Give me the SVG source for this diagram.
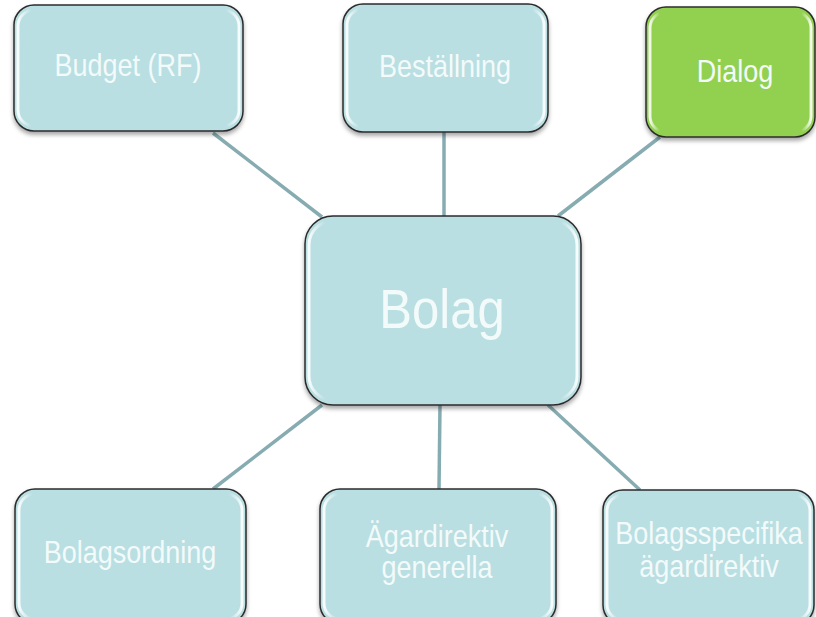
<svg xmlns="http://www.w3.org/2000/svg" width="816" height="617" viewBox="0 0 816 617">
<defs>
<linearGradient id="gloss" x1="0" y1="0" x2="1" y2="0">
<stop offset="0" stop-color="#ffffff" stop-opacity="0.9"/>
<stop offset="0.06" stop-color="#ffffff" stop-opacity="0"/>
<stop offset="0.94" stop-color="#ffffff" stop-opacity="0"/>
<stop offset="1" stop-color="#ffffff" stop-opacity="0.9"/>
</linearGradient>
<filter id="sh" x="-10%" y="-10%" width="120%" height="130%">
<feDropShadow dx="0" dy="3" stdDeviation="2" flood-color="#000" flood-opacity="0.35"/>
</filter>
</defs>
<style>
.box{fill:#B9DFE2;stroke:#2b2b2b;stroke-width:1.5;filter:url(#sh)}
.green{fill:#92D050}
.gl{fill:none;stroke:url(#gloss);stroke-width:3}
.t{font-family:"Liberation Sans",Arial,sans-serif;font-size:27px;fill:#F3FAFA;text-anchor:middle}
.big{font-size:49px}
.con line{stroke:#86ACB1;stroke-width:3.5}
</style>
<rect width="816" height="617" fill="#ffffff"/>
<g id="connectors" class="con">
<line x1="213" y1="133" x2="322" y2="217"/>
<line x1="444" y1="132" x2="444" y2="216"/>
<line x1="660" y1="137" x2="558" y2="216"/>
<line x1="322" y1="405" x2="213" y2="489"/>
<line x1="440" y1="405" x2="439" y2="489"/>
<line x1="548" y1="405" x2="640" y2="490"/>
</g>
<g id="budget">
<rect class="box" x="14" y="5" width="229" height="126" rx="20"/>
<rect class="gl" x="18" y="10" width="221" height="116" rx="16"/>
<text class="t" transform="translate(128,76) scale(1,1.13)">Budget (RF)</text>
</g>
<g id="bestallning">
<rect class="box" x="343" y="4" width="205" height="128" rx="20"/>
<rect class="gl" x="347" y="9" width="197" height="118" rx="16"/>
<text class="t" transform="translate(445,77) scale(1,1.13)">Beställning</text>
</g>
<g id="dialog">
<rect class="box green" x="646" y="7" width="169" height="130" rx="20"/>
<rect class="gl" x="650" y="12" width="161" height="120" rx="16"/>
<text class="t" transform="translate(735,82) scale(1,1.13)">Dialog</text>
</g>
<g id="bolag">
<rect class="box" x="305" y="216" width="276" height="189" rx="28"/>
<rect class="gl" x="309" y="221" width="268" height="179" rx="24"/>
<text class="t big" transform="translate(442,328) scale(1,1.13)">Bolag</text>
</g>
<g id="bolagsordning">
<rect class="box" x="15" y="489" width="231" height="135" rx="20"/>
<rect class="gl" x="19" y="494" width="223" height="125" rx="16"/>
<text class="t" transform="translate(130,563) scale(1,1.13)">Bolagsordning</text>
</g>
<g id="agardirektiv-generella">
<rect class="box" x="320" y="489" width="236" height="135" rx="20"/>
<rect class="gl" x="324" y="494" width="228" height="125" rx="16"/>
<text class="t" transform="translate(437,547) scale(1,1.13)">Ägardirektiv</text>
<text class="t" transform="translate(437,578) scale(1,1.13)">generella</text>
</g>
<g id="bolagsspecifika">
<rect class="box" x="603" y="490" width="211" height="135" rx="20"/>
<rect class="gl" x="607" y="495" width="203" height="125" rx="16"/>
<text class="t" transform="translate(709,544) scale(1,1.13)">Bolagsspecifika</text>
<text class="t" transform="translate(709,577) scale(1,1.13)">ägardirektiv</text>
</g>
</svg>
